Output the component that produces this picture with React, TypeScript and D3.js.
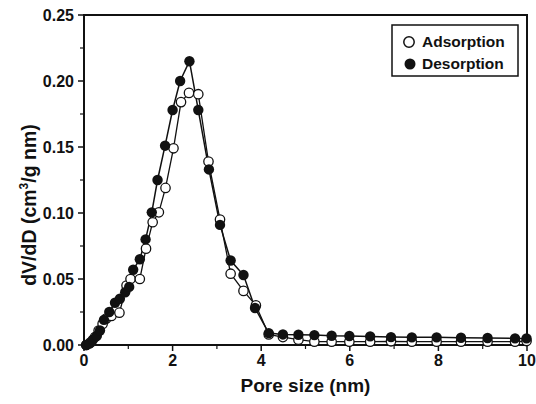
import * as d3 from "d3";

const desX = [0.05, 0.12, 0.2, 0.29, 0.36, 0.45, 0.57, 0.7, 0.81, 0.93, 1.02, 1.11, 1.26, 1.39, 1.53, 1.66, 1.83, 2.0, 2.17, 2.38, 2.58, 2.82, 3.07, 3.31, 3.6, 3.86, 4.17, 4.49, 4.84, 5.2, 5.59, 5.99, 6.46, 6.93, 7.4, 7.96, 8.51, 9.11, 9.73, 9.99];
const desY = [0, 0.001, 0.004, 0.007, 0.011, 0.019, 0.025, 0.032, 0.035, 0.04, 0.044, 0.057, 0.065, 0.08, 0.1005, 0.125, 0.151, 0.178, 0.2, 0.215, 0.178, 0.133, 0.091, 0.064, 0.053, 0.028, 0.009, 0.008, 0.0078, 0.0075, 0.007, 0.0068, 0.0065, 0.006, 0.0058, 0.0058, 0.0055, 0.0053, 0.005, 0.005];

const adsX = [0.05, 0.15, 0.25, 0.33, 0.42, 0.5, 0.62, 0.8, 0.96, 1.05, 1.26, 1.4, 1.55, 1.69, 1.84, 2.02, 2.19, 2.37, 2.58, 2.81, 3.07, 3.31, 3.6, 3.88, 4.17, 4.49, 4.84, 5.2, 5.59, 5.99, 6.46, 6.93, 7.4, 7.96, 8.51, 9.11, 9.73, 9.99];
const adsY = [0, 0.002, 0.006, 0.011, 0.016, 0.02, 0.022, 0.0245, 0.045, 0.05, 0.05, 0.073, 0.093, 0.1005, 0.119, 0.149, 0.184, 0.191, 0.19, 0.139, 0.095, 0.054, 0.041, 0.03, 0.008, 0.006, 0.004, 0.0025, 0.0025, 0.0025, 0.0025, 0.0028, 0.0025, 0.0025, 0.0025, 0.0025, 0.0025, 0.003];

const xTicks = [0, 2, 4, 6, 8, 10];
const xMinor = [1, 3, 5, 7, 9];
const yTicks = [0, 0.05, 0.1, 0.15, 0.2, 0.25];
const yMinor = [0.025, 0.075, 0.125, 0.175, 0.225];

const W = 536;
const H = 404;
const m = { left: 84, right: 9, top: 15, bottom: 59 };
const font = "'Liberation Sans', Arial, sans-serif";

export default function App() {
  const x = d3.scaleLinear().domain([0, 10]).range([m.left, W - m.right]);
  const y = d3.scaleLinear().domain([0, 0.25]).range([H - m.bottom, m.top]);

  const ads = adsX.map((v, i) => [v, adsY[i]] as [number, number]);
  const des = desX.map((v, i) => [v, desY[i]] as [number, number]);
  const line = d3
    .line<[number, number]>()
    .x((d) => x(d[0]))
    .y((d) => y(d[1]));

  const x0 = x(0), x1 = x(10), y0 = y(0), y1 = y(0.25);

  return (
    <svg width={W} height={H} style={{ position: "absolute", left: 0, top: 0, background: "white" }}>
      {/* frame */}
      <rect x={x0} y={y1} width={x1 - x0} height={y0 - y1} fill="none" stroke="#111" strokeWidth={2} />

      {/* x ticks */}
      {xTicks.map((t) => (
        <g key={"xt" + t}>
          <line x1={x(t)} x2={x(t)} y1={y0} y2={y0 + 6} stroke="#111" strokeWidth={1.5} />
          <text x={x(t)} y={y0 + 21} textAnchor="middle" fontFamily={font} fontWeight="bold" fontSize={16} fill="#111">
            {t}
          </text>
        </g>
      ))}
      {xMinor.map((t) => (
        <line key={"xm" + t} x1={x(t)} x2={x(t)} y1={y0} y2={y0 + 4} stroke="#111" strokeWidth={1.2} />
      ))}

      {/* y ticks */}
      {yTicks.map((t) => (
        <g key={"yt" + t}>
          <line x1={x0 - 6} x2={x0} y1={y(t)} y2={y(t)} stroke="#111" strokeWidth={1.5} />
          <text x={x0 - 10} y={y(t) + 6} textAnchor="end" fontFamily={font} fontWeight="bold" fontSize={16} fill="#111">
            {t.toFixed(2)}
          </text>
        </g>
      ))}
      {yMinor.map((t) => (
        <line key={"ym" + t} x1={x0 - 4} x2={x0} y1={y(t)} y2={y(t)} stroke="#111" strokeWidth={1.2} />
      ))}

      {/* series lines */}
      <path d={line(ads) ?? ""} fill="none" stroke="#111" strokeWidth={1.3} />
      <path d={line(des) ?? ""} fill="none" stroke="#111" strokeWidth={1.5} />

      {/* markers */}
      {ads.map((d, i) => (
        <circle key={"a" + i} cx={x(d[0])} cy={y(d[1])} r={4.7} fill="white" stroke="#111" strokeWidth={1.3} />
      ))}
      {des.map((d, i) => (
        <circle key={"d" + i} cx={x(d[0])} cy={y(d[1])} r={5.2} fill="#111" />
      ))}

      {/* legend */}
      <rect x={392} y={25} width={126} height={51} fill="white" stroke="#111" strokeWidth={1.5} />
      <circle cx={409} cy={42} r={5.2} fill="white" stroke="#111" strokeWidth={1.5} />
      <text x={422} y={47} fontFamily={font} fontWeight="bold" fontSize={15.5} fill="#111">Adsorption</text>
      <circle cx={410} cy={64} r={5.5} fill="#111" />
      <text x={422} y={69} fontFamily={font} fontWeight="bold" fontSize={15.5} fill="#111">Desorption</text>

      {/* axis titles */}
      <text x={(x0 + x1) / 2} y={392} textAnchor="middle" fontFamily={font} fontWeight="bold" fontSize={19} fill="#111">
        Pore size (nm)
      </text>
      <text
        transform={`translate(36,205) rotate(-90)`}
        textAnchor="middle"
        fontFamily={font}
        fontWeight="bold"
        fontSize={19.5}
        fill="#111"
      >
        dV/dD (cm<tspan dy={-8} fontSize={12}>3</tspan>
        <tspan dy={8}>/g nm)</tspan>
      </text>
    </svg>
  );
}
